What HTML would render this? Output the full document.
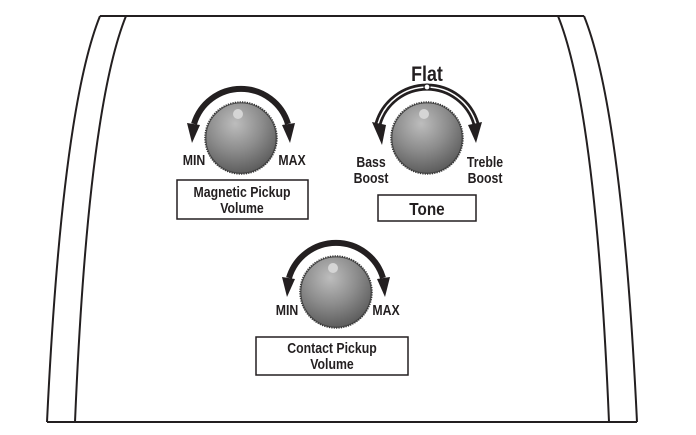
<!DOCTYPE html>
<html><head><style>
body{margin:0;background:#fff;width:696px;height:435px;overflow:hidden}
svg{display:block}
text{font-family:"Liberation Sans",sans-serif;font-weight:bold;fill:#231f20}
</style></head><body>
<svg width="696" height="435" viewBox="0 0 696 435">
<defs>
<radialGradient id="k" cx="0.42" cy="0.3" r="0.75">
<stop offset="0" stop-color="#bdbdbd"/><stop offset="0.5" stop-color="#8c8c8c"/><stop offset="1" stop-color="#555"/>
</radialGradient>
<g id="knob">
<circle r="36" fill="url(#k)" stroke="#333" stroke-width="1.5" stroke-dasharray="1.2 1.2"/>
<circle r="35" fill="none" stroke="#444" stroke-width="0.8"/>
<circle cx="-3" cy="-24" r="5" fill="#d5d5d5"/>
</g>
<g id="arr">
<path d="M -47 -14 A 49 49 0 0 1 47 -14" fill="none" stroke="#231f20" stroke-width="6"/>
<polygon points="-54,-15 -41,-13 -49,5" fill="#231f20"/>
<polygon points="54,-15 41,-13 49,5" fill="#231f20"/>
</g>
</defs>
<g fill="none" stroke="#231f20" stroke-width="2">
<path d="M100 16 L584 16"/>
<path d="M47 422 L637 422"/>
<path d="M100 16 Q62 110 47 422"/>
<path d="M126 16 Q88 110 75 422"/>
<path d="M558 16 Q596 110 609 422"/>
<path d="M584 16 Q622 110 637 422"/>
</g>

<use href="#arr" x="241" y="138"/>
<use href="#knob" x="241" y="138"/>
<text x="194" y="165" font-size="15" text-anchor="middle" transform="translate(194 0) scale(0.82 1) translate(-194 0)">MIN</text>
<text x="292" y="165" font-size="15" text-anchor="middle" transform="translate(292 0) scale(0.82 1) translate(-292 0)">MAX</text>
<rect x="177" y="180" width="131" height="39" fill="none" stroke="#231f20" stroke-width="1.5"/>
<g transform="translate(242 0) scale(0.82 1)">
<text x="0" y="197" font-size="15" text-anchor="middle">Magnetic Pickup</text>
<text x="0" y="213" font-size="15" text-anchor="middle">Volume</text>
</g>

<path d="M 378 124 A 51 51 0 0 1 476 124" fill="none" stroke="#231f20" stroke-width="7"/>
<path d="M 378 124 A 51 51 0 0 1 476 124" fill="none" stroke="#fff" stroke-width="1.5"/>
<polygon points="372,122 386,125 382,145" fill="#231f20"/>
<polygon points="482,122 468,125 476,143" fill="#231f20"/>
<circle cx="427" cy="87" r="3" fill="#fff" stroke="#231f20" stroke-width="1.2"/>
<use href="#knob" x="427" y="138"/>
<g transform="translate(427 0) scale(0.85 1)"><text x="0" y="81" font-size="21" text-anchor="middle">Flat</text></g>
<g transform="translate(371 0) scale(0.82 1)">
<text x="0" y="167" font-size="15" text-anchor="middle">Bass</text>
<text x="0" y="183" font-size="15" text-anchor="middle">Boost</text>
</g>
<g transform="translate(485 0) scale(0.82 1)">
<text x="0" y="167" font-size="15" text-anchor="middle">Treble</text>
<text x="0" y="183" font-size="15" text-anchor="middle">Boost</text>
</g>
<rect x="378" y="195" width="98" height="26" fill="none" stroke="#231f20" stroke-width="1.5"/>
<g transform="translate(427 0) scale(0.85 1)"><text x="0" y="215" font-size="18" text-anchor="middle">Tone</text></g>

<use href="#arr" x="336" y="292"/>
<use href="#knob" x="336" y="292"/>
<text x="287" y="315" font-size="15" text-anchor="middle" transform="translate(287 0) scale(0.82 1) translate(-287 0)">MIN</text>
<text x="386" y="315" font-size="15" text-anchor="middle" transform="translate(386 0) scale(0.82 1) translate(-386 0)">MAX</text>
<rect x="256" y="337" width="152" height="38" fill="none" stroke="#231f20" stroke-width="1.5"/>
<g transform="translate(332 0) scale(0.82 1)">
<text x="0" y="353" font-size="15" text-anchor="middle">Contact Pickup</text>
<text x="0" y="369" font-size="15" text-anchor="middle">Volume</text>
</g>
</svg>
</body></html>
